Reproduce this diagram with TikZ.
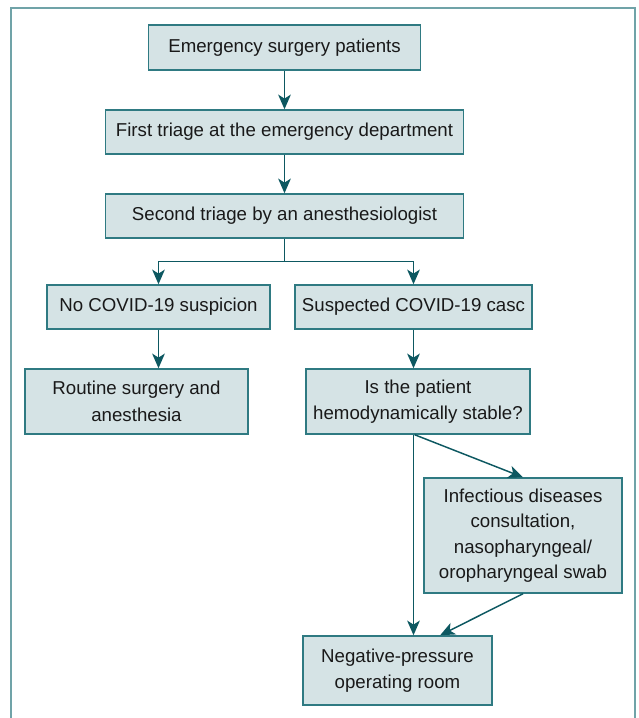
\documentclass[tikz,border=0pt]{standalone}
\usepackage{fontspec}
\setmainfont{Liberation Sans}
\usetikzlibrary{arrows.meta}

\definecolor{boxfill}{HTML}{D5E3E5}
\definecolor{boxline}{HTML}{2F7A82}
\definecolor{arrowcol}{HTML}{0D5861}
\definecolor{framecol}{HTML}{70A3A8}

\tikzset{
    flowbox/.style={draw=boxline, fill=boxfill, line width=1.1pt, align=center,
        inner sep=0pt, text=black!90, font=\fontsize{14pt}{20pt}\selectfont},
    flowarrow/.style={draw=arrowcol, line width=1.1pt,
        -{Stealth[length=11pt, width=9.5pt, inset=3pt]}}
}

\begin{document}
\begin{tikzpicture}[x=0.75pt, y=-0.75pt]
    % Page size and outer frame
    \useasboundingbox (0,0) rectangle (639,718);
    \draw[framecol, line width=1.4pt] (11,718) -- (11,8) -- (635,8) -- (635,718);

    % Triage steps
    \node[flowbox, minimum width=272*0.75pt, minimum height=45*0.75pt] (patients) at (284.5,47.5) {Emergency surgery patients};
    \node[flowbox, minimum width=358*0.75pt, minimum height=44*0.75pt] (firsttriage) at (284.5,132) {First triage at the emergency department};
    \node[flowbox, minimum width=358*0.75pt, minimum height=44*0.75pt] (secondtriage) at (284.5,216) {Second triage by an anesthesiologist};

    % The two branches
    \node[flowbox, minimum width=223*0.75pt, minimum height=44*0.75pt] (nosusp) at (158.5,307) {No COVID-19 suspicion};
    \node[flowbox, minimum width=237*0.75pt, minimum height=44*0.75pt] (suspected) at (413.5,307) {Suspected COVID-19 casc};
    \node[flowbox, minimum width=223*0.75pt, minimum height=65*0.75pt] (routine) at (136.5,401.5) {Routine surgery and\\anesthesia};
    \node[flowbox, minimum width=224*0.75pt, minimum height=65*0.75pt] (stable) at (418,401.5) {Is the patient\\hemodynamically stable?};

    % Consultation and operating room
    \node[flowbox, minimum width=198*0.75pt, minimum height=115*0.75pt,
        font=\fontsize{14pt}{19pt}\selectfont] (consult) at (523,535.5) {Infectious diseases\\consultation,\\nasopharyngeal/\\oropharyngeal swab};
    \node[flowbox, minimum width=189*0.75pt, minimum height=69*0.75pt] (negroom) at (397.5,670.5) {Negative-pressure\\operating room};

    % Arrows
    \draw[flowarrow] (patients) -- (firsttriage);
    \draw[flowarrow] (firsttriage) -- (secondtriage);
    \draw[flowarrow] (secondtriage.south) -- ++(0,23) -| (nosusp.north);
    \draw[flowarrow] (secondtriage.south) -- ++(0,23) -| (suspected.north);
    \draw[flowarrow] (nosusp.south) -- (nosusp.south |- routine.north);
    \draw[flowarrow] (suspected.south) -- (suspected.south |- stable.north);
    \draw[flowarrow] (suspected.south |- stable.south) -- (suspected.south |- negroom.north);
    \draw[flowarrow] ([xshift=-2.5pt]stable.south) -- (consult.north);
    \draw[flowarrow] (consult.south) -- ([xshift=32pt]negroom.north);
\end{tikzpicture}
\end{document}
